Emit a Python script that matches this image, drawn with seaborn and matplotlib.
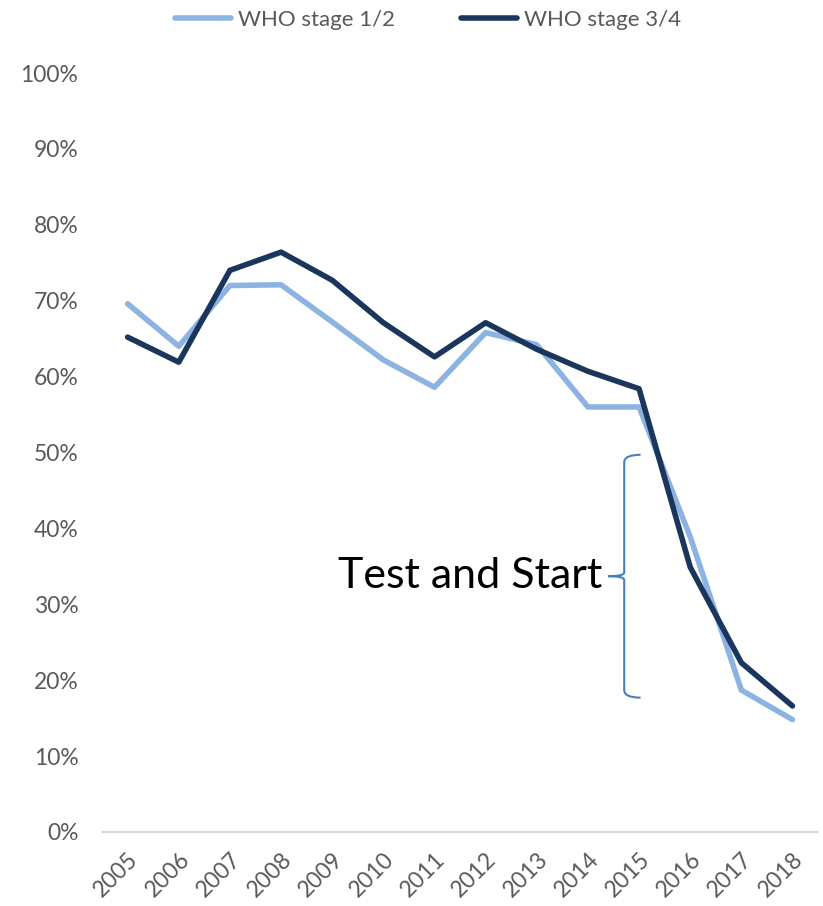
import pandas as pd
import seaborn as sns
import matplotlib.pyplot as plt
from matplotlib.path import Path
from matplotlib.patches import PathPatch
from matplotlib.ticker import PercentFormatter

years = [str(y) for y in range(2005, 2019)]
stage_12 = [69.6, 64.0, 72.0, 72.1, 67.2, 62.2, 58.6, 65.8, 64.2, 56.0, 56.0, 38.9, 18.7, 14.8]
stage_34 = [65.2, 61.9, 74.0, 76.4, 72.7, 67.1, 62.6, 67.1, 63.6, 60.7, 58.4, 34.9, 22.3, 16.6]
series_names = ["WHO stage 1/2", "WHO stage 3/4"]

df = pd.DataFrame({
    "year": years * 2,
    "value": [v / 100 for v in stage_12 + stage_34],
    "series": [series_names[0]] * len(years) + [series_names[1]] * len(years),
})

sns.set_style("white")
plt.rcParams["font.family"] = ["Lato", "DejaVu Sans"]

fig = plt.figure(figsize=(8.23, 9.06), dpi=100)
ax = fig.add_axes([0.124, 0.0817, 0.870, 0.8377])

palette = {series_names[0]: "#8DB3E2", series_names[1]: "#1B365D"}
sns.lineplot(data=df, x="year", y="value", hue="series", palette=palette,
             linewidth=4, sort=False, ax=ax, solid_capstyle="round")

ax.set_xlim(-0.5, len(years) - 0.5)
ax.set_ylim(0, 1)
ax.set_yticks([i / 10 for i in range(11)])
ax.yaxis.set_major_formatter(PercentFormatter(1.0, decimals=0))
ax.set_xlabel("")
ax.set_ylabel("")
for s in ["top", "right", "left"]:
    ax.spines[s].set_visible(False)
ax.spines["bottom"].set_color("#D9D9D9")
ax.spines["bottom"].set_linewidth(1.5)
ax.tick_params(axis="both", length=0, colors="#595959", labelsize=16.5)
ax.tick_params(axis="y", pad=17)
plt.setp(ax.get_xticklabels(), rotation=45, ha="right", rotation_mode="anchor")
ax.tick_params(axis="x", pad=12)

handles, labels = ax.get_legend_handles_labels()
ax.legend(handles, labels, loc="upper center", bbox_to_anchor=(0.52, 1.0), bbox_transform=fig.transFigure,
          ncol=2, frameon=False, fontsize=16, labelcolor="#595959", handlelength=2.5,
          handletextpad=0.3, columnspacing=3.0, borderaxespad=0.05)

# brace annotation
bx, tip_x, end_x = 9.71, 9.40, 10.03
y_top, y_mid, y_bot = 0.497, 0.337, 0.177
verts = [
    (end_x, y_top), (bx, y_top), (bx, y_top - 0.01),
    (bx, y_mid + 0.005), (bx, y_mid), (tip_x, y_mid),
    (bx, y_mid), (bx, y_mid - 0.005),
    (bx, y_bot + 0.01), (bx, y_bot), (end_x, y_bot),
]
codes = [Path.MOVETO, Path.CURVE3, Path.CURVE3,
         Path.LINETO, Path.CURVE3, Path.CURVE3,
         Path.CURVE3, Path.CURVE3,
         Path.LINETO, Path.CURVE3, Path.CURVE3]
ax.add_patch(PathPatch(Path(verts, codes), facecolor="none", edgecolor="#4A7EBB", linewidth=1.5))
ax.text(9.28, y_mid, "Test and Start", ha="right", va="center", fontsize=31, color="black")

fig.savefig("out.png", dpi=100)
